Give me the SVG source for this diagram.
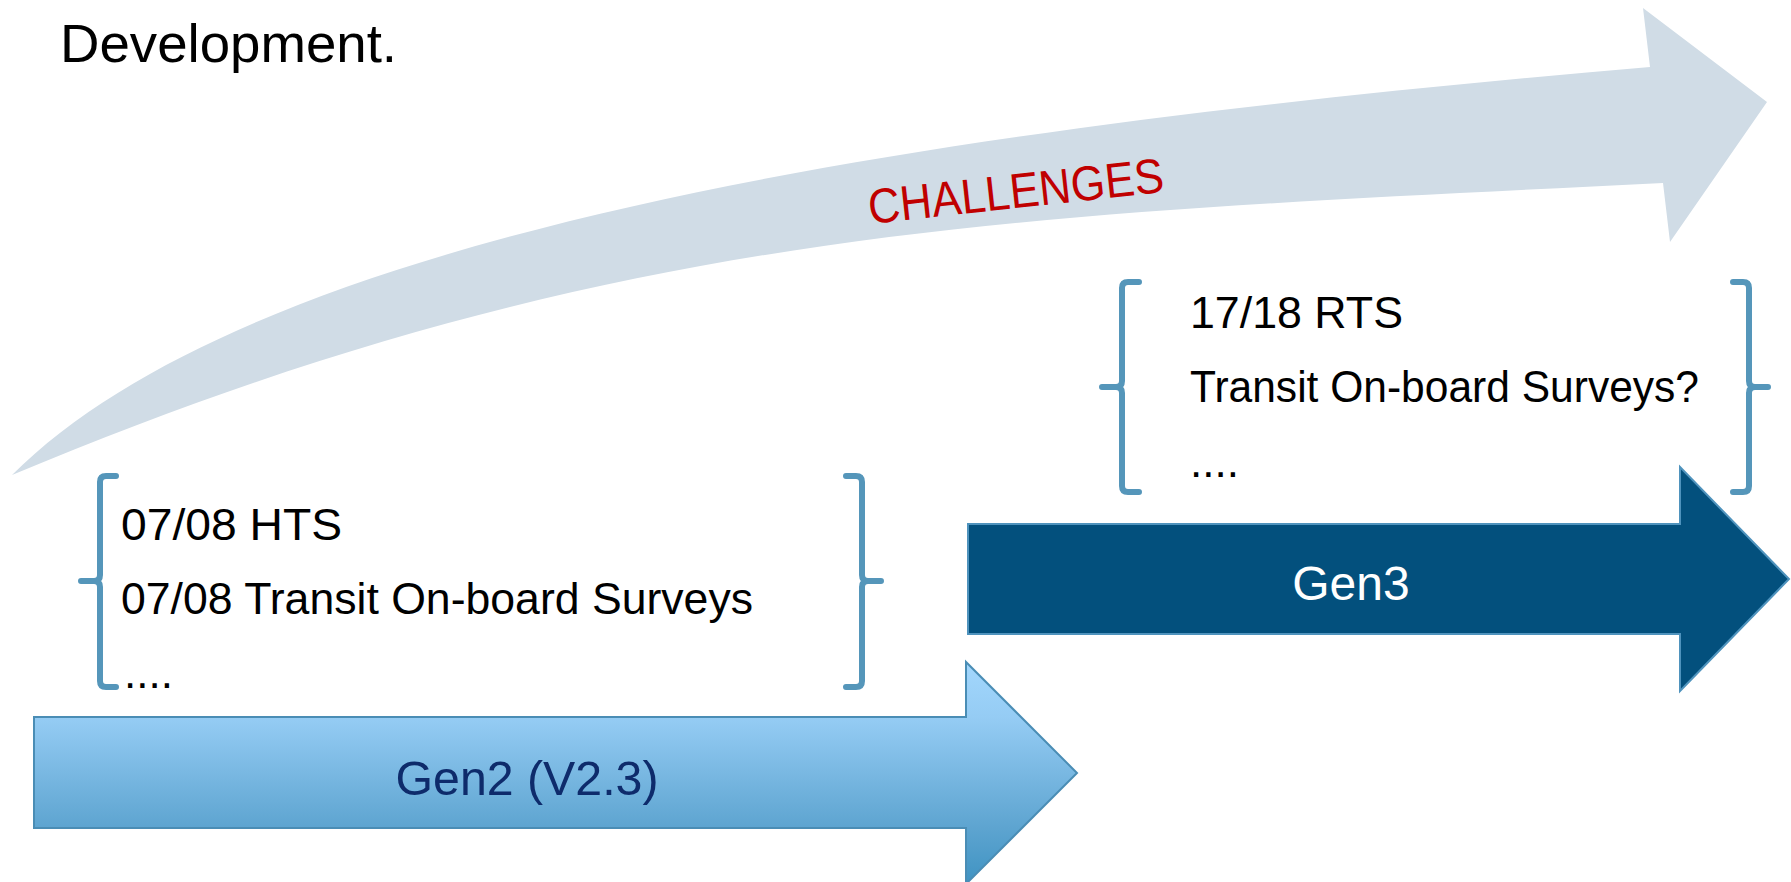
<svg xmlns="http://www.w3.org/2000/svg" width="1791" height="882" viewBox="0 0 1791 882">
  <defs>
    <linearGradient id="gen2Grad" x1="0" y1="0" x2="0" y2="1">
      <stop offset="0" stop-color="#A3D7FD"/>
      <stop offset="0.25" stop-color="#95CCF4"/>
      <stop offset="0.75" stop-color="#5DA4D0"/>
      <stop offset="1" stop-color="#3F93C2"/>
    </linearGradient>
  </defs>
  <style>
    .txt { font-family: "Liberation Sans", Arial, sans-serif; fill: #000000; }
    .note { font-size: 44px; }
    .brace { fill: none; stroke: #5596BA; stroke-width: 6; stroke-linecap: round; stroke-linejoin: round; }
    .label { font-family: "Liberation Sans", Arial, sans-serif; font-size: 48px; text-anchor: middle; }
  </style>
  <rect x="0" y="0" width="1791" height="882" fill="#FFFFFF"/>

  <g id="title">
    <text class="txt" x="60" y="62" font-size="54" textLength="337" lengthAdjust="spacingAndGlyphs">Development.</text>
  </g>

  <g id="challenges-arrow">
    <path d="M12,475 C262,225 950,127 1650,67 L1643,8 L1767,102 L1670,242 L1663,183 C1013,215.5 612,223 12,475 Z" fill="#D0DCE6"/>
    <text x="870" y="224" transform="rotate(-6.2 870 224)" font-family="'Liberation Sans', Arial, sans-serif" font-size="49" fill="#C00000" textLength="297" lengthAdjust="spacingAndGlyphs">CHALLENGES</text>
  </g>

  <g id="gen2">
    <path d="M34,717 L966,717 L966,662 L1077,773 L966,884 L966,828 L34,828 Z" fill="url(#gen2Grad)" stroke="#4A8DB5" stroke-width="2"/>
    <text class="label" x="527" y="795" fill="#0E2B6B" textLength="263" lengthAdjust="spacingAndGlyphs">Gen2 (V2.3)</text>
  </g>

  <g id="gen3">
    <path d="M968,524 L1680,524 L1680,467 L1789,579 L1680,691 L1680,634 L968,634 Z" fill="#03507D" stroke="#4F93BD" stroke-width="2"/>
    <text class="label" x="1351" y="600" fill="#FFFFFF">Gen3</text>
  </g>

  <g id="gen2-notes">
    <path class="brace" d="M116,476 L106,476 Q100,476 100,482 L100,575 Q100,581 94,581 L81,581 L94,581 Q100,581 100,587 L100,681 Q100,687 106,687 L116,687"/>
    <path class="brace" d="M846,476 L856,476 Q862,476 862,482 L862,575 Q862,581 868,581 L881,581 L868,581 Q862,581 862,587 L862,681 Q862,687 856,687 L846,687"/>
    <text class="txt note" x="121" y="540" textLength="221" lengthAdjust="spacingAndGlyphs">07/08 HTS</text>
    <text class="txt note" x="121" y="614" textLength="632" lengthAdjust="spacingAndGlyphs">07/08 Transit On-board Surveys</text>
    <text class="txt note" x="124" y="688">....</text>
  </g>

  <g id="gen3-notes">
    <path class="brace" d="M1139,282 L1128,282 Q1122,282 1122,288 L1122,381 Q1122,387 1116,387 L1102,387 L1116,387 Q1122,387 1122,393 L1122,486 Q1122,492 1128,492 L1139,492"/>
    <path class="brace" d="M1733,282 L1743,282 Q1749,282 1749,288 L1749,381 Q1749,387 1755,387 L1768,387 L1755,387 Q1749,387 1749,393 L1749,486 Q1749,492 1743,492 L1733,492"/>
    <text class="txt note" x="1190" y="328" textLength="213" lengthAdjust="spacingAndGlyphs">17/18 RTS</text>
    <text class="txt note" x="1190" y="402" textLength="509" lengthAdjust="spacingAndGlyphs">Transit On-board Surveys?</text>
    <text class="txt note" x="1190" y="477">....</text>
  </g>

  <g id="connectors"/>
</svg>
